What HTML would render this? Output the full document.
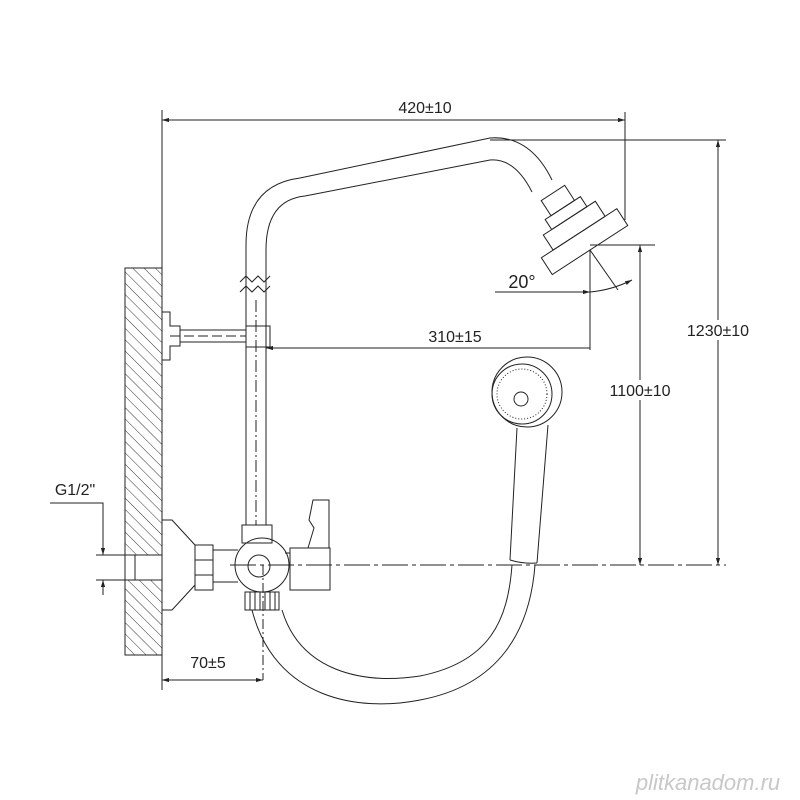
<!DOCTYPE html>
<html><head><style>body{margin:0;background:#fff}svg{display:block}</style></head><body>
<svg width="800" height="800" viewBox="0 0 800 800" xmlns="http://www.w3.org/2000/svg" font-family="Liberation Sans, sans-serif">
<defs>
<pattern id="h" width="8" height="8" patternUnits="userSpaceOnUse" patternTransform="rotate(-45)">
<line x1="0" y1="0" x2="0" y2="8" stroke="#333" stroke-width="1"/></pattern>
<marker id="a" viewBox="0 0 10 10" refX="10" refY="5" markerWidth="7" markerHeight="7" orient="auto-start-reverse"><path d="M0,2 L10,5 L0,8z" fill="#222"/></marker>
</defs>
<g fill="none" stroke="#222" stroke-width="1">
<!-- wall -->
<rect x="125" y="268" width="37" height="387" fill="url(#h)"/>
<line x1="162" y1="110" x2="162" y2="690"/>
<!-- top dim -->
<line x1="162" y1="120" x2="625" y2="120" marker-start="url(#a)" marker-end="url(#a)"/>
<line x1="625" y1="112" x2="625" y2="220"/>
<!-- riser -->
<path d="M246,525 V245 Q246,185 300,178 L490,138 Q530,135 552,180"/>
<path d="M266,525 V250 Q266,200 305,196 L490,160 Q515,158 532,192"/>
<line x1="256" y1="300" x2="256" y2="525" stroke-dasharray="12,3,2,3"/>
<path d="M240,282 l6,-6 6,6 6,-6 6,6 6,-6 M240,292 l6,-6 6,6 6,-6 6,6 6,-6"/>
<!-- bracket -->
<path d="M162,312 h8 v14 h10 v20 h-10 v14 h-8"/>
<rect x="180" y="330" width="66" height="12"/>
<line x1="170" y1="336" x2="246" y2="336" stroke-dasharray="10,4"/>
<rect x="246" y="326" width="24" height="21"/>
<!-- 310 dim -->
<line x1="590" y1="348" x2="266" y2="348" marker-end="url(#a)"/>
<line x1="590" y1="250" x2="590" y2="350"/>
<!-- 20 deg -->
<line x1="495" y1="292" x2="590" y2="292" marker-end="url(#a)"/>
<line x1="590" y1="250" x2="618" y2="290"/>
<path d="M590,292 Q612,290 632,280" marker-end="url(#a)"/>
<!-- showerhead -->
<g transform="translate(590,250) rotate(-33)">
<rect x="-14" y="-68" width="28" height="18"/>
<rect x="-21" y="-50" width="42" height="12"/>
<rect x="-31" y="-38" width="62" height="18"/>
<rect x="-45" y="-20" width="90" height="20"/>
</g>
<!-- right dims -->
<line x1="490" y1="140" x2="726" y2="140"/>
<line x1="718" y1="140" x2="718" y2="565" marker-start="url(#a)" marker-end="url(#a)"/>
<line x1="590" y1="245" x2="655" y2="245"/>
<line x1="640" y1="245" x2="640" y2="565" marker-start="url(#a)" marker-end="url(#a)"/>
<line x1="230" y1="565" x2="726" y2="565" stroke-dasharray="26,4,4,4"/>
<!-- valve -->
<path d="M162,520 h10 l23,25 v40 l-23,25 h-10z"/>
<rect x="195" y="545" width="18" height="45"/>
<line x1="195" y1="560" x2="213" y2="560"/><line x1="195" y1="575" x2="213" y2="575"/>
<path d="M213,550 h25 M213,582 h25"/>
<circle cx="262" cy="565" r="27"/>
<circle cx="259" cy="566" r="11"/>
<rect x="242" y="525" width="30" height="18"/>
<rect x="245" y="592" width="34" height="18"/>
<path d="M250,592 v18 M255,592 v18 M260,592 v18 M265,592 v18 M270,592 v18 M275,592 v18"/>
<rect x="290" y="548" width="40" height="42"/>
<line x1="285" y1="553" x2="290" y2="553"/>
<path d="M308,548 l6,-20 -5,-8 4,-20 16,0 v48"/>
<line x1="263" y1="565" x2="263" y2="680" stroke-dasharray="10,3,2,3"/>
<!-- 70 dim -->
<line x1="162" y1="680" x2="263" y2="680" marker-start="url(#a)" marker-end="url(#a)"/>
<!-- wall pipe -->
<rect x="125" y="555" width="37" height="25" fill="#fff"/>
<line x1="135" y1="555" x2="135" y2="580"/>
<!-- G1/2 -->
<path d="M50,503 H103 V540"/>
<line x1="103" y1="540" x2="103" y2="555" marker-end="url(#a)"/>
<line x1="103" y1="595" x2="103" y2="580" marker-end="url(#a)"/>
<line x1="96" y1="555" x2="125" y2="555"/><line x1="96" y1="580" x2="125" y2="580"/>
<!-- hose -->
<path d="M252,610 C275,700 360,712 420,700 C500,685 530,630 535,565"/>
<path d="M282,610 C300,670 360,685 420,676 C490,662 508,620 512,565"/>
<!-- hand shower -->
<circle cx="527" cy="392" r="35"/>
<circle cx="522" cy="394" r="30"/>
<circle cx="522" cy="394" r="25" stroke-dasharray="1,2"/>
<circle cx="521" cy="399" r="7"/>
<path d="M517,428 L510,560 M548,425 L537,563"/>
<path d="M510,560 Q523,564 537,563"/>
</g>
<g font-size="16" fill="#222">
<text x="425" y="113" text-anchor="middle">420±10</text>
<text x="455" y="342" text-anchor="middle">310±15</text>
<rect x="683" y="320" width="72" height="20" fill="#fff"/>
<text x="718" y="336" text-anchor="middle">1230±10</text>
<rect x="603" y="380" width="76" height="20" fill="#fff"/>
<text x="640" y="396" text-anchor="middle">1100±10</text>
<text x="522" y="288" text-anchor="middle" font-size="18">20°</text>
<text x="75" y="495" text-anchor="middle">G1/2"</text>
<text x="208" y="668" text-anchor="middle">70±5</text>
</g>
<text x="708" y="790" text-anchor="middle" font-size="22" font-style="italic" fill="#c8c8c8">plitkanadom.ru</text>
</svg>
</body></html>
